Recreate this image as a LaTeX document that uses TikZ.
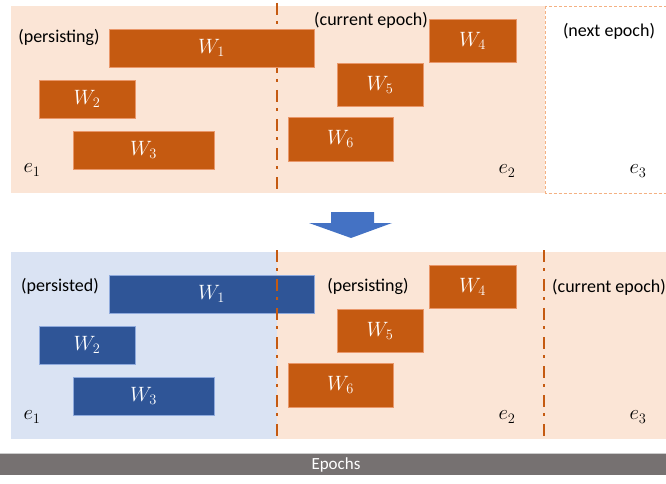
\documentclass[tikz,border=0pt]{standalone}
\usepackage{fontspec}
\setmainfont{Carlito}
\begin{document}
\begin{tikzpicture}[x=1pt,y=-1pt,
  every node/.style={font=\fontsize{18}{20}\selectfont},
  obox/.style={draw=boxOrangeLine, line width=0.5pt, fill=wOrange, text=white, inner sep=0pt, font=\fontsize{20}{22}\selectfont},
  bbox/.style={draw=boxBlueLine, line width=0.5pt, fill=wBlue, text=white, inner sep=0pt, font=\fontsize{20}{22}\selectfont},
  lbl/.style={text=black, inner sep=0pt},
  elbl/.style={text=black, inner sep=0pt, font=\fontsize{20}{22}\selectfont},
  epochline/.style={draw=wOrange, line width=2.8pt, dash pattern=on 12pt off 6pt on 3pt off 8pt}
]
\definecolor{wOrange}{HTML}{C55A11}
\definecolor{wBlue}{HTML}{2F5597}
\definecolor{boxOrangeLine}{HTML}{E9976A}
\definecolor{boxBlueLine}{HTML}{8FAADC}
\definecolor{bgOrange}{HTML}{FBE5D6}
\definecolor{bgBlue}{HTML}{DAE3F3}
\definecolor{arrowBlue}{HTML}{4472C4}
\definecolor{barGray}{HTML}{767171}
\definecolor{dashOrange}{HTML}{F4B183}
\clip (0,0) rectangle (666,484);
\fill[white] (0,0) rectangle (666,484);

% ---------- top panel ----------
\fill[bgOrange] (11,6) rectangle (545,193);
\draw[dashOrange, line width=0.8pt, dash pattern=on 3pt off 2pt] (545.5,6) rectangle (666.5,193);
\coordinate (t1a) at (277,3);
\coordinate (t1b) at (277,193);
\draw[epochline] (t1a) -- (t1b);

\node[obox, minimum width=205pt, minimum height=38pt] (tW1) at (211.5,48) {$W_1$};
\node[obox, minimum width=96pt, minimum height=38pt] (tW2) at (87,99) {$W_2$};
\node[obox, minimum width=141pt, minimum height=38pt] (tW3) at (143.5,150) {$W_3$};
\node[obox, minimum width=87pt, minimum height=43pt] (tW4) at (472.5,40.5) {$W_4$};
\node[obox, minimum width=86pt, minimum height=43pt] (tW5) at (380,84.5) {$W_5$};
\node[obox, minimum width=105pt, minimum height=44pt] (tW6) at (340.5,139) {$W_6$};

\node[lbl] (tpers) at (59,37) {(persisting)};
\node[lbl] (tcur) at (371,20) {(current epoch)};
\node[lbl] (tnext) at (609,31) {(next epoch)};
\node[elbl] (te1) at (32,170) {$e_1$};
\node[elbl] (te2) at (507,171) {$e_2$};
\node[elbl] (te3) at (638,171) {$e_3$};

% ---------- arrow ----------
\fill[arrowBlue] (331,212) -- (374,212) -- (374,223) -- (392,223) -- (351,238) -- (309,223) -- (331,223) -- cycle;

% ---------- bottom panel ----------
\fill[bgBlue] (11,252) rectangle (277,439);
\fill[bgOrange] (277,252) rectangle (667,439);

\node[bbox, minimum width=205pt, minimum height=38pt] (bW1) at (211.5,294) {$W_1$};
\node[bbox, minimum width=96pt, minimum height=38pt] (bW2) at (87,345) {$W_2$};
\node[bbox, minimum width=141pt, minimum height=38pt] (bW3) at (143.5,396) {$W_3$};
\node[obox, minimum width=87pt, minimum height=43pt] (bW4) at (472.5,286.5) {$W_4$};
\node[obox, minimum width=86pt, minimum height=43pt] (bW5) at (380,330.5) {$W_5$};
\node[obox, minimum width=105pt, minimum height=44pt] (bW6) at (340.5,385) {$W_6$};

\coordinate (b1a) at (277,250);
\coordinate (b1b) at (277,439);
\coordinate (b2a) at (544,250);
\coordinate (b2b) at (544,439);
\draw[epochline] (b1a) -- (b1b);
\draw[epochline] (b2a) -- (b2b);

\node[lbl] (bpers) at (60,286) {(persisted)};
\node[lbl] (bpersing) at (368,286) {(persisting)};
\node[lbl] (bcur) at (609,287) {(current epoch)};
\node[elbl] (be1) at (32,417) {$e_1$};
\node[elbl] (be2) at (507,417) {$e_2$};
\node[elbl] (be3) at (638,417) {$e_3$};

% ---------- epochs bar ----------
\fill[barGray] (0,453) rectangle (666,475);
\draw[gray!40, line width=0.8pt] (0,453) -- (666,453);
\node[text=white, inner sep=0pt, font=\fontsize{17}{19}\selectfont] (epochs) at (336,465) {Epochs};
\end{tikzpicture}
\end{document}
